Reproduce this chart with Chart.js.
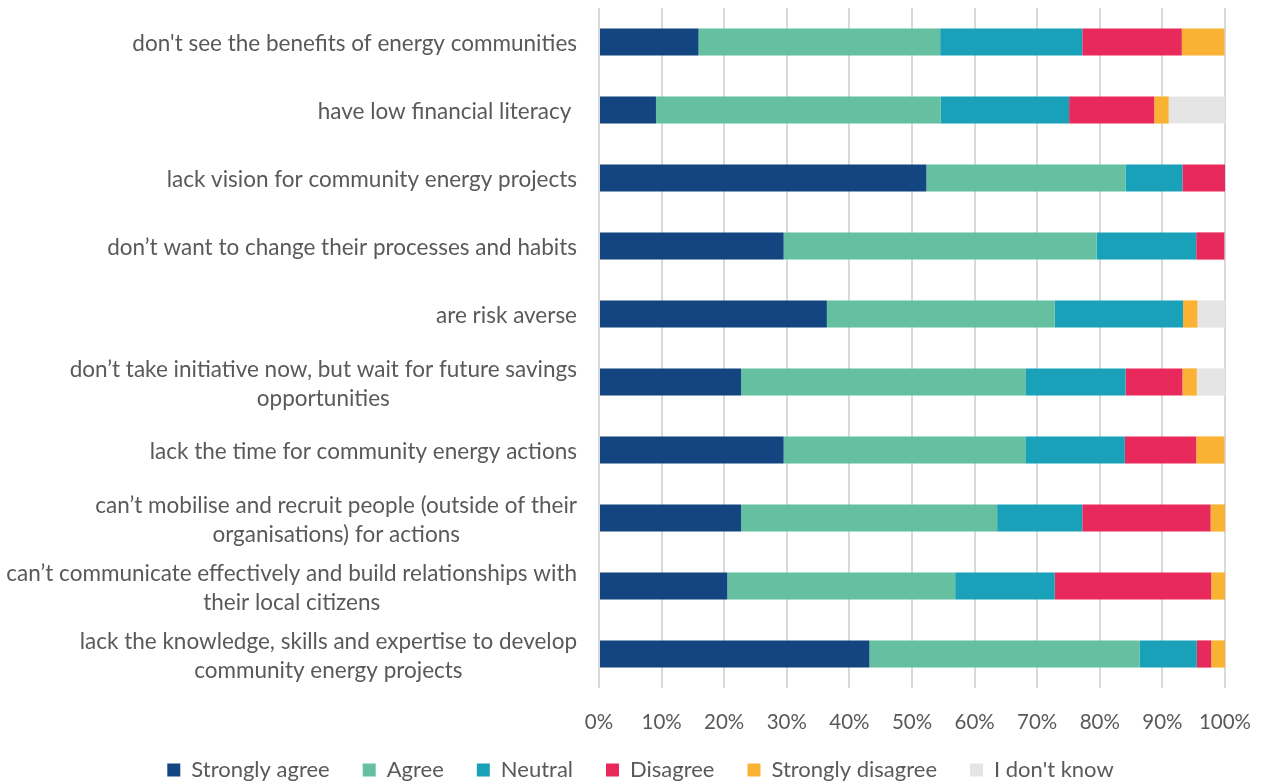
<!DOCTYPE html>
<html>
<head>
<meta charset="utf-8">
<script src="https://cdn.jsdelivr.net/npm/chart.js@4"></script>
<style>
html,body{margin:0;padding:0;background:#fff;}
#wrap{width:1262px;height:784px;position:relative;}
</style>
</head>
<body>
<div id="wrap"><canvas id="c" width="1262" height="784"></canvas></div>
<script>
const categories = [
  ["don't see the benefits of energy communities"],
  ["have low financial literacy "],
  ["lack vision for community energy projects"],
  ["don’t want to change their processes and habits"],
  ["are risk averse"],
  ["don’t take initiative now, but wait for future savings", "opportunities"],
  ["lack the time for community energy actions"],
  ["can’t mobilise and recruit people (outside of their", "organisations) for actions"],
  ["can’t communicate effectively and build relationships with", "their local citizens"],
  ["lack the knowledge, skills and expertise to develop", "community energy projects"]
];
const seriesNames = ["Strongly agree", "Agree", "Neutral", "Disagree", "Strongly disagree", "I don't know"];
const stronglyAgree    = [15.9, 9.1, 52.3, 29.5, 36.4, 22.7, 29.5, 22.7, 20.5, 43.2];
const agree            = [38.6, 45.5, 31.8, 50.0, 36.4, 45.5, 38.6, 40.9, 36.4, 43.2];
const neutral          = [22.7, 20.5, 9.1, 15.9, 20.5, 15.9, 15.9, 13.6, 15.9, 9.1];
const disagree         = [15.9, 13.6, 6.8, 4.5, 0, 9.1, 11.4, 20.5, 25.0, 2.3];
const stronglyDisagree = [6.8, 2.3, 0, 0, 2.3, 2.3, 4.5, 2.3, 2.3, 2.3];
const dontKnow         = [0, 9.1, 0, 0, 4.5, 4.5, 0, 0, 0, 0];
const xTicks = [0, 10, 20, 30, 40, 50, 60, 70, 80, 90, 100];

const colors = ["#134581", "#64C0A0", "#19A1BA", "#E8295B", "#F9B233", "#E5E5E5"];
const allSeries = [stronglyAgree, agree, neutral, disagree, stronglyDisagree, dontKnow];
const FONT = "Lato";
const TXT = "#595959";
const PAD_LEFT = 56;

const yLabelPlugin = {
  id: 'yLabels',
  beforeLayout(chart) {
    const lg = chart.legend;
    if (lg && !lg._fitWrapped) {
      const f = lg.fit.bind(lg);
      lg.fit = function () { f(); this.height = 58; };
      lg._fitWrapped = true;
    }
  },
  afterLayout(chart) {
    // let the x tick labels draw below the fixed axis box without clipping
    chart.scales.x.bottom = 750;
  },
  afterDraw(chart) {
    const ctx = chart.ctx, ys = chart.scales.y;
    ctx.save();
    ctx.font = "22.5px " + FONT;
    ctx.fillStyle = TXT;
    ctx.textBaseline = 'middle';
    ctx.textAlign = 'center';
    const right = chart.chartArea.left - 22;
    const lh = 29;
    categories.forEach((lines, i) => {
      const w = Math.max(...lines.map(l => ctx.measureText(l).width));
      const cx = right - w / 2;
      const yc = ys.getPixelForValue(i) + 2;
      lines.forEach((l, j) => ctx.fillText(l, cx, yc + (j - (lines.length - 1) / 2) * lh));
    });
    ctx.restore();
  }
};

new Chart(document.getElementById('c'), {
  type: 'bar',
  data: {
    labels: categories.map(c => c.join(' ')),
    datasets: seriesNames.map((n, i) => ({
      label: n,
      data: allSeries[i],
      backgroundColor: colors[i],
      borderWidth: 0,
      barPercentage: 0.4,
      categoryPercentage: 1.0
    }))
  },
  options: {
    indexAxis: 'y',
    responsive: false,
    animation: false,
    devicePixelRatio: 1,
    layout: { padding: { top: 8, right: 37, left: PAD_LEFT, bottom: 0 } },
    scales: {
      x: {
        stacked: true, min: 0, max: 100,
        afterBuildTicks: s => { s.ticks = xTicks.map(v => ({ value: v })); },
        ticks: { callback: v => v + '%', color: TXT, font: { family: FONT, size: 20.5 }, padding: 22, maxRotation: 0 },
        grid: { color: '#D9D9D9', lineWidth: 2, drawTicks: false },
        border: { display: false },
        afterFit: s => { s.height = 38; s.paddingLeft = 0; s.paddingRight = 0; }
      },
      y: {
        stacked: true,
        ticks: { display: false },
        grid: { display: false },
        border: { display: false },
        afterFit: s => { s.width = 599 - PAD_LEFT; }
      }
    },
    plugins: {
      legend: {
        position: 'bottom',
        labels: { boxWidth: 13, boxHeight: 13, padding: 33, color: TXT, font: { family: FONT, size: 22 } }
      },
      tooltip: { enabled: false }
    }
  },
  plugins: [yLabelPlugin]
});
</script>
</body>
</html>
